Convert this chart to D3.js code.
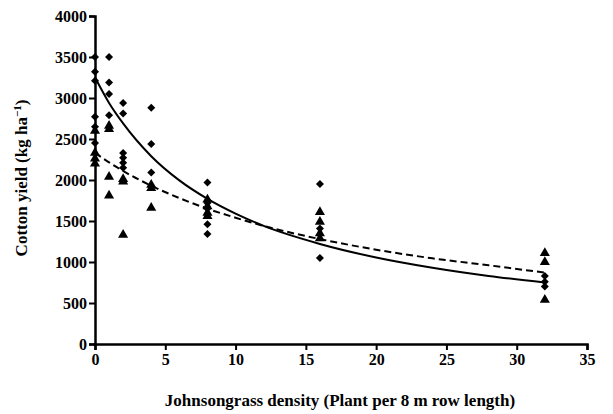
<!DOCTYPE html>
<html>
<head>
    <title>Cotton yield vs Johnsongrass density</title>
    <script src="https://d3js.org/d3.v7.min.js"></script>
    <style>
        body { margin: 0; background: #fff; }
        text { font-family: "Liberation Serif", "Times New Roman", serif; font-weight: bold; fill: #000; }
    </style>
</head>
<body>
    <svg width="613" height="414"></svg>
    <script>
        // Observed points, diamond series
        var diamondX = [0, 0, 0, 0, 0, 0,
                        1, 1, 1, 1,
                        2, 2, 2, 2, 2, 2,
                        4, 4, 4,
                        8, 8, 8, 8, 8,
                        16, 16, 16,
                        32, 32, 32];
        var diamondY = [3500, 3320, 3210, 2770, 2650, 2450,
                        3500, 3190, 3050, 2790,
                        2940, 2810, 2330, 2270, 2210, 2150,
                        2880, 2440, 2090,
                        1970, 1720, 1650, 1460, 1340,
                        1950, 1410, 1050,
                        830, 760, 700];

        // Observed points, triangle series
        var triangleX = [0, 0, 0, 0,
                         1, 1, 1, 1,
                         2, 2, 2,
                         4, 4, 4,
                         8, 8, 8, 8,
                         16, 16, 16, 16,
                         32, 32, 32];
        var triangleY = [2600, 2330, 2260, 2200,
                         2660, 2620, 2040, 1810,
                         2010, 1980, 1330,
                         1940, 1900, 1660,
                         1760, 1680, 1600, 1560,
                         1610, 1490, 1350, 1290,
                         1110, 1000, 540];

        // Fitted curves
        var fitX = [0, 1, 2, 4, 6, 8, 10, 12, 16, 20, 24, 28, 32];
        var solidFitY = [3250, 2940, 2690, 2290, 1995, 1770, 1590, 1440, 1220, 1055, 930, 830, 750];
        var dashedFitY = [2330, 2215, 2110, 1930, 1780, 1650, 1540, 1440, 1280, 1150, 1045, 960, 870];

        var xTicks = [0, 5, 10, 15, 20, 25, 30, 35];
        var yTicks = [0, 500, 1000, 1500, 2000, 2500, 3000, 3500, 4000];

        var plotLeft = 95, plotRight = 587, plotTop = 16, plotBottom = 344;

        var x = d3.scaleLinear().domain([0, 35]).range([plotLeft, plotRight]);
        var y = d3.scaleLinear().domain([0, 4000]).range([plotBottom, plotTop]);

        var svg = d3.select("svg");

        // Fitted lines
        var line = d3.line()
            .x(function(d) { return x(d[0]); })
            .y(function(d) { return y(d[1]); })
            .curve(d3.curveMonotoneX);

        svg.append("path")
            .datum(d3.zip(fitX, solidFitY))
            .attr("d", line)
            .attr("fill", "none")
            .attr("stroke", "#000")
            .attr("stroke-width", 2);

        svg.append("path")
            .datum(d3.zip(fitX, dashedFitY))
            .attr("d", line)
            .attr("fill", "none")
            .attr("stroke", "#000")
            .attr("stroke-width", 2)
            .attr("stroke-dasharray", "7,4");

        // Points (diamond = square turned 45 degrees)
        svg.selectAll("path.diamond")
            .data(d3.zip(diamondX, diamondY))
            .enter()
            .append("path")
            .attr("class", "diamond")
            .attr("d", d3.symbol().type(d3.symbolSquare).size(32))
            .attr("transform", function(d) { return "translate(" + x(d[0]) + "," + y(d[1]) + ") rotate(45)"; })
            .attr("fill", "#000");

        svg.selectAll("path.triangle")
            .data(d3.zip(triangleX, triangleY))
            .enter()
            .append("path")
            .attr("class", "triangle")
            .attr("d", d3.symbol().type(d3.symbolTriangle).size(44))
            .attr("transform", function(d) { return "translate(" + x(d[0]) + "," + y(d[1]) + ")"; })
            .attr("fill", "#000");

        // Axes
        var xAxis = d3.axisBottom(x).tickValues(xTicks).tickSize(6).tickPadding(4)
            .tickFormat(d3.format("d"));
        var yAxis = d3.axisLeft(y).tickValues(yTicks).tickSize(6).tickPadding(2)
            .tickFormat(d3.format("d"));

        var gx = svg.append("g")
            .attr("transform", "translate(0," + plotBottom + ")")
            .call(xAxis);
        var gy = svg.append("g")
            .attr("transform", "translate(" + plotLeft + ",0)")
            .call(yAxis);

        [gx, gy].forEach(function(g) {
            g.select(".domain").attr("stroke-width", 2.5);
            g.selectAll(".tick line").attr("stroke-width", 2);
            g.selectAll(".tick text")
                .attr("font-family", "Liberation Serif")
                .attr("font-weight", "bold")
                .attr("font-size", 16)
                .attr("fill", "#000");
        });

        // Axis titles
        svg.append("text")
            .attr("x", 340)
            .attr("y", 406)
            .attr("text-anchor", "middle")
            .attr("font-size", 17)
            .text("Johnsongrass density (Plant per 8 m row length)");

        var yTitle = svg.append("text")
            .attr("transform", "translate(27,178) rotate(-90)")
            .attr("text-anchor", "middle")
            .attr("font-size", 17);
        yTitle.append("tspan").text("Cotton yield (kg ha");
        yTitle.append("tspan").attr("dy", -6).attr("font-size", 11).text("\u22121");
        yTitle.append("tspan").attr("dy", 6).text(")");
    </script>
</body>
</html>
